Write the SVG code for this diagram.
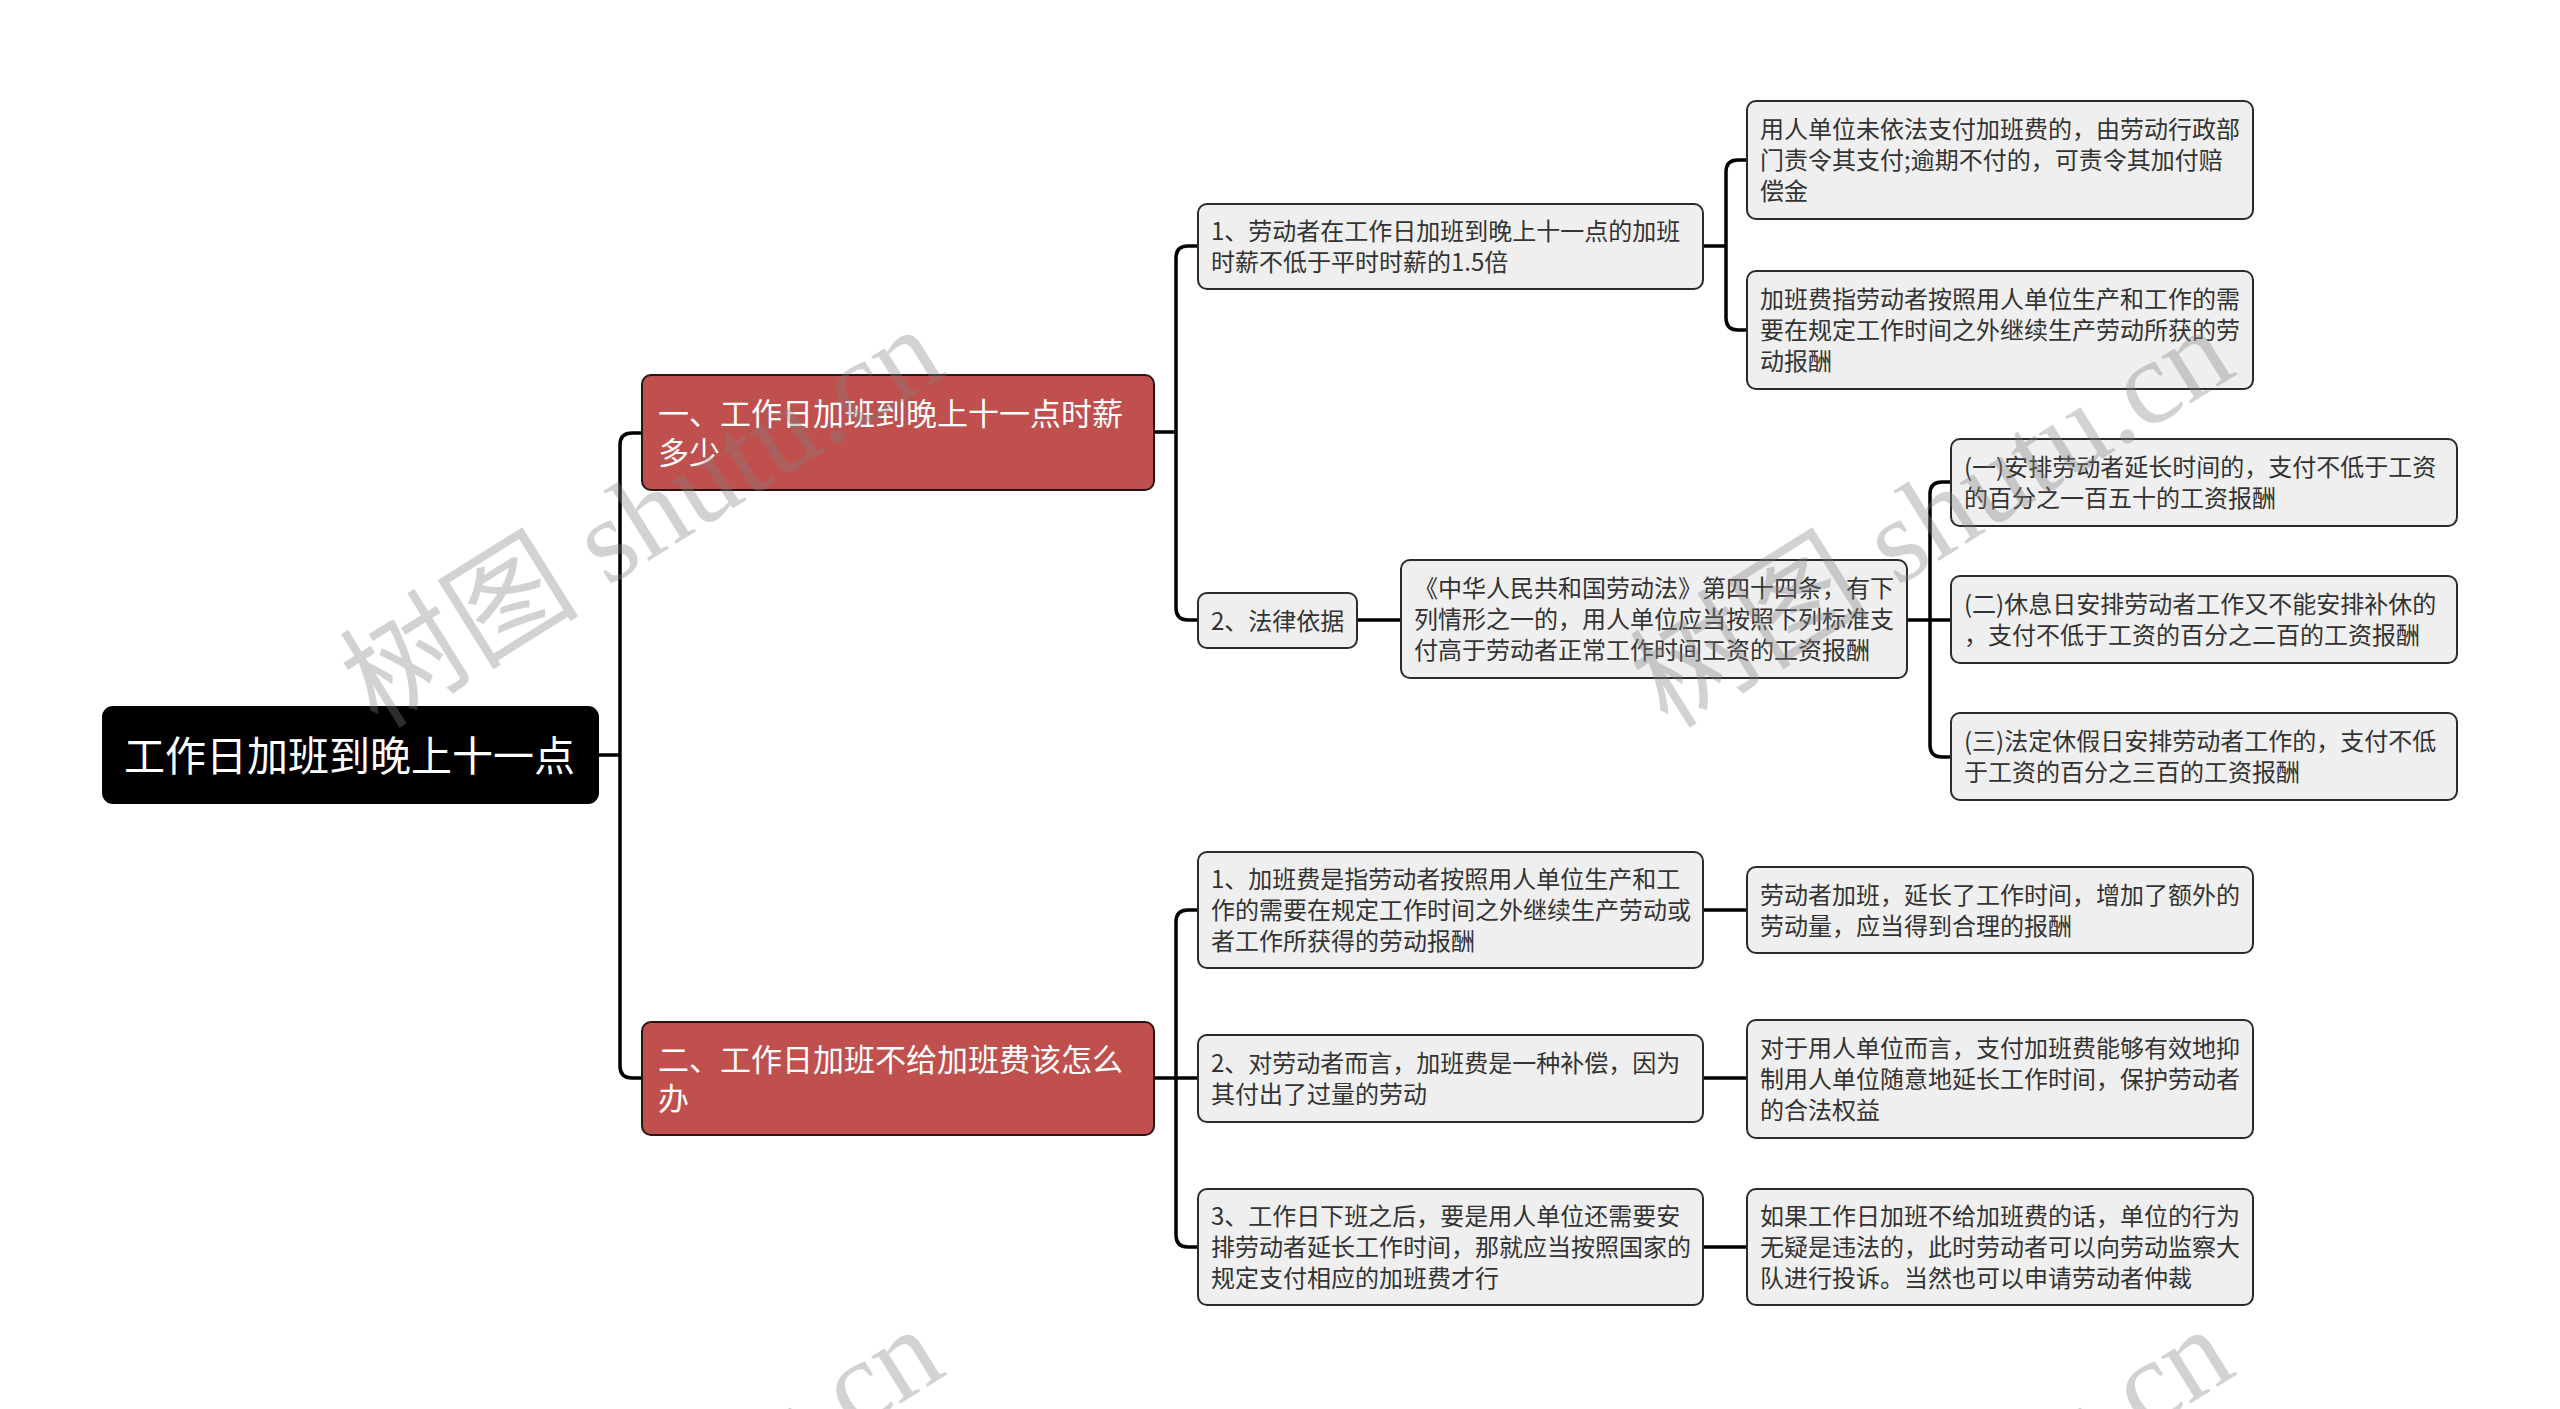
<svg xmlns="http://www.w3.org/2000/svg" width="2560" height="1409" viewBox="0 0 2560 1409">
<style>
.conn{fill:none;stroke:#000;stroke-width:3.5;stroke-linejoin:round}
.root{fill:#000;stroke:#000;stroke-width:2}
.main{fill:#C0504D;stroke:#2a1414;stroke-width:2}
.leaf{fill:#EFEFEF;stroke:#2b2b2b;stroke-width:2}
.t{font-family:"Noto Sans CJK SC","Noto Sans",sans-serif}
.tr{font-size:41px;fill:#fff}
.tm{font-size:31px;fill:#fff}
.tl{font-size:24px;fill:#333}
.wm{font-family:"Liberation Serif","Noto Sans CJK SC",serif;font-size:120px;fill:#808080;opacity:0.35}
</style>
<rect width="2560" height="1409" fill="#fff"/>
<g id="connectors">
<path class="conn" d="M598,755 H620 M642,433 H632 Q620,433 620,445 V1066 Q620,1078 632,1078 H642"/>
<path class="conn" d="M1154,432 H1176 M1198,246 H1188 Q1176,246 1176,258 V608 Q1176,620 1188,620 H1198"/>
<path class="conn" d="M1703,246 H1726 M1747,160 H1738 Q1726,160 1726,172 V318 Q1726,330 1738,330 H1747"/>
<path class="conn" d="M1357,620 H1401"/>
<path class="conn" d="M1907,620 H1951 M1951,482 H1942 Q1930,482 1930,494 V745 Q1930,757 1942,757 H1951"/>
<path class="conn" d="M1154,1078 H1198 M1198,910 H1188 Q1176,910 1176,922 V1235 Q1176,1247 1188,1247 H1198"/>
<path class="conn" d="M1703,910 H1747 M1703,1078 H1747 M1703,1247 H1747"/>
</g>
<g id="root">
<rect class="root" x="103" y="707" width="495" height="96" rx="10"/>
<text class="t tr" x="124" y="771">工作日加班到晚上十一点</text>
</g>
<g id="branch1">
<rect class="main" x="642" y="375" width="512" height="115" rx="9"/>
<text class="t tm"><tspan x="658" y="425">一、工作日加班到晚上十一点时薪</tspan><tspan x="658" y="464">多少</tspan></text>
</g>
<g id="branch2">
<rect class="main" x="642" y="1022" width="512" height="113" rx="9"/>
<text class="t tm"><tspan x="658" y="1071">二、工作日加班不给加班费该怎么</tspan><tspan x="658" y="1110">办</tspan></text>
</g>
<g id="b1-item1">
<rect class="leaf" x="1198" y="204" width="505" height="85" rx="9"/>
<text class="t tl"><tspan x="1211" y="240">1、劳动者在工作日加班到晚上十一点的加班</tspan><tspan x="1211" y="271">时薪不低于平时时薪的1.5倍</tspan></text>
</g>
<g id="b1-item2">
<rect class="leaf" x="1198" y="593" width="159" height="55" rx="9"/>
<text class="t tl" x="1211" y="630">2、法律依据</text>
</g>
<g id="b1-item1-a">
<rect class="leaf" x="1747" y="101" width="506" height="118" rx="9"/>
<text class="t tl"><tspan x="1760" y="138">用人单位未依法支付加班费的，由劳动行政部</tspan><tspan x="1760" y="169">门责令其支付;逾期不付的，可责令其加付赔</tspan><tspan x="1760" y="200">偿金</tspan></text>
</g>
<g id="b1-item1-b">
<rect class="leaf" x="1747" y="271" width="506" height="118" rx="9"/>
<text class="t tl"><tspan x="1760" y="308">加班费指劳动者按照用人单位生产和工作的需</tspan><tspan x="1760" y="339">要在规定工作时间之外继续生产劳动所获的劳</tspan><tspan x="1760" y="370">动报酬</tspan></text>
</g>
<g id="b1-law">
<rect class="leaf" x="1401" y="560" width="506" height="118" rx="9"/>
<text class="t tl"><tspan x="1414" y="597">《中华人民共和国劳动法》第四十四条，有下</tspan><tspan x="1414" y="628">列情形之一的，用人单位应当按照下列标准支</tspan><tspan x="1414" y="659">付高于劳动者正常工作时间工资的工资报酬</tspan></text>
</g>
<g id="b1-law-1">
<rect class="leaf" x="1951" y="439" width="506" height="87" rx="9"/>
<text class="t tl"><tspan x="1964" y="476">(一)安排劳动者延长时间的，支付不低于工资</tspan><tspan x="1964" y="507">的百分之一百五十的工资报酬</tspan></text>
</g>
<g id="b1-law-2">
<rect class="leaf" x="1951" y="576" width="506" height="87" rx="9"/>
<text class="t tl"><tspan x="1964" y="613">(二)休息日安排劳动者工作又不能安排补休的</tspan><tspan x="1964" y="644">，支付不低于工资的百分之二百的工资报酬</tspan></text>
</g>
<g id="b1-law-3">
<rect class="leaf" x="1951" y="713" width="506" height="87" rx="9"/>
<text class="t tl"><tspan x="1964" y="750">(三)法定休假日安排劳动者工作的，支付不低</tspan><tspan x="1964" y="781">于工资的百分之三百的工资报酬</tspan></text>
</g>
<g id="b2-item1">
<rect class="leaf" x="1198" y="852" width="505" height="116" rx="9"/>
<text class="t tl"><tspan x="1211" y="888">1、加班费是指劳动者按照用人单位生产和工</tspan><tspan x="1211" y="919">作的需要在规定工作时间之外继续生产劳动或</tspan><tspan x="1211" y="950">者工作所获得的劳动报酬</tspan></text>
</g>
<g id="b2-item2">
<rect class="leaf" x="1198" y="1035" width="505" height="87" rx="9"/>
<text class="t tl"><tspan x="1211" y="1072">2、对劳动者而言，加班费是一种补偿，因为</tspan><tspan x="1211" y="1103">其付出了过量的劳动</tspan></text>
</g>
<g id="b2-item3">
<rect class="leaf" x="1198" y="1189" width="505" height="116" rx="9"/>
<text class="t tl"><tspan x="1211" y="1225">3、工作日下班之后，要是用人单位还需要安</tspan><tspan x="1211" y="1256">排劳动者延长工作时间，那就应当按照国家的</tspan><tspan x="1211" y="1287">规定支付相应的加班费才行</tspan></text>
</g>
<g id="b2-item1-a">
<rect class="leaf" x="1747" y="867" width="506" height="86" rx="9"/>
<text class="t tl"><tspan x="1760" y="904">劳动者加班，延长了工作时间，增加了额外的</tspan><tspan x="1760" y="935">劳动量，应当得到合理的报酬</tspan></text>
</g>
<g id="b2-item2-a">
<rect class="leaf" x="1747" y="1020" width="506" height="118" rx="9"/>
<text class="t tl"><tspan x="1760" y="1057">对于用人单位而言，支付加班费能够有效地抑</tspan><tspan x="1760" y="1088">制用人单位随意地延长工作时间，保护劳动者</tspan><tspan x="1760" y="1119">的合法权益</tspan></text>
</g>
<g id="b2-item3-a">
<rect class="leaf" x="1747" y="1189" width="506" height="116" rx="9"/>
<text class="t tl"><tspan x="1760" y="1225">如果工作日加班不给加班费的话，单位的行为</tspan><tspan x="1760" y="1256">无疑是违法的，此时劳动者可以向劳动监察大</tspan><tspan x="1760" y="1287">队进行投诉。当然也可以申请劳动者仲裁</tspan></text>
</g>
<g id="watermark">
<text class="wm" transform="translate(378,730) rotate(-32)">树图 shutu.cn</text>
<text class="wm" transform="translate(1668,730) rotate(-32)">树图 shutu.cn</text>
<text class="wm" transform="translate(378,1730) rotate(-32)">树图 shutu.cn</text>
<text class="wm" transform="translate(1668,1730) rotate(-32)">树图 shutu.cn</text>
</g>
</svg>
